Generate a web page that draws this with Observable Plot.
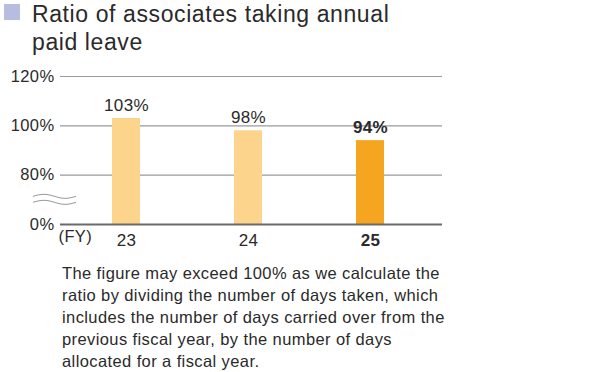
<!DOCTYPE html>
<html>
<head>
<meta charset="utf-8">
<script src="https://cdn.jsdelivr.net/npm/d3@7"></script>
<script src="https://cdn.jsdelivr.net/npm/@observablehq/plot@0.6"></script>
<style>
  html, body { margin: 0; padding: 0; background: #fff; }
  body { width: 592px; height: 372px; position: relative; overflow: hidden;
         font-family: "Liberation Sans", Arial, sans-serif; color: #2a2a2a; }
  #title { position: absolute; left: 32px; top: 0px; font-size: 23px; line-height: 28px; letter-spacing: 0.6px; color: #2a2a2a; white-space: nowrap; }
  #icon { position: absolute; left: 4px; top: 4px; width: 16px; height: 16px; background: #b5bde3; }
  #chart { position: absolute; left: 0; top: 0; }
  #note { position: absolute; left: 62px; top: 262px; font-size: 16.5px; line-height: 22px; letter-spacing: 0.4px; color: #2a2a2a; white-space: nowrap; }
</style>
</head>
<body>
<div id="chart"></div>
<div id="icon"></div>
<div id="title">Ratio of associates taking annual<br>paid leave</div>
<div id="note">The figure may exceed 100% as we calculate the<br>ratio by dividing the number of days taken, which<br>includes the number of days carried over from the<br>previous fiscal year, by the number of days<br>allocated for a fiscal year.</div>
<script>
// Data
const years = ["23", "24", "25"];
const values = [103, 98, 94];
const labels = ["103%", "98%", "94%"];
const highlight = ["25"];
// Axis: broken at bottom — "0%" is drawn at the 60 position
const axisBase = 60;
const yTicks = [60, 80, 100, 120];
const yTickLabels = ["0%", "80%", "100%", "120%"];

const data = years.map((y, i) => ({year: y, value: values[i], label: labels[i], hi: highlight.includes(y)}));

const plot = Plot.plot({
  width: 592,
  height: 372,
  marginTop: 76,
  marginBottom: 148,
  marginLeft: 60,
  marginRight: 150,
  style: {fontFamily: "Liberation Sans, Arial, sans-serif", color: "#2a2a2a", background: "transparent", letterSpacing: "0.4px"},
  x: {domain: years, paddingInner: 0.771, paddingOuter: 0.445, align: 0.47, axis: null},
  y: {domain: [60, 120], axis: null},
  marks: [
    Plot.ruleY(yTicks.filter(d => d !== axisBase), {stroke: "#9a9a9a", strokeWidth: 1.2}),
    Plot.rectY(data, {x: "year", y1: axisBase, y2: "value", fill: d => d.hi ? "#f5a51f" : "#fdd48b"}),
    Plot.ruleY([axisBase], {stroke: "#6a6a6a", strokeWidth: 2}),
    Plot.text(yTicks, {x: null, y: d => d, frameAnchor: "left", text: (d, i) => yTickLabels[i], textAnchor: "end", dx: -6, fontSize: 16.5, fill: "#2a2a2a"}),
    Plot.text(data.filter(d => !d.hi), {x: "year", y: "value", text: "label", dy: -13, fontSize: 17, fill: "#2a2a2a"}),
    Plot.text(data.filter(d => d.hi), {x: "year", y: "value", text: "label", dy: -13, fontSize: 17, fontWeight: "bold", fill: "#2a2a2a"}),
    Plot.text(data.filter(d => !d.hi), {x: "year", y: axisBase, text: "year", dy: 16, fontSize: 17, fill: "#2a2a2a"}),
    Plot.text(data.filter(d => d.hi), {x: "year", y: axisBase, text: "year", dy: 16, fontSize: 17, fontWeight: "bold", fill: "#2a2a2a"}),
    Plot.text(["(FY)"], {frameAnchor: "bottom-left", textAnchor: "start", dx: -2, dy: 17, fontSize: 16.5, fill: "#2a2a2a"})
  ]
});
document.getElementById("chart").appendChild(plot);

// axis-break squiggle
const ys = plot.scale("y").apply(70);
const svg = d3.select(plot);
function wave(y0) {
  const pts = d3.range(0, 44, 1).map(t => [33 + t, y0 - 2 * Math.sin((t / 43) * Math.PI * 2)]);
  return d3.line()(pts);
}
svg.append("path").attr("d", wave(ys - 3)).attr("fill", "none").attr("stroke", "#9a9a9a").attr("stroke-width", 1);
svg.append("path").attr("d", wave(ys + 3)).attr("fill", "none").attr("stroke", "#9a9a9a").attr("stroke-width", 1);
</script>
</body>
</html>
